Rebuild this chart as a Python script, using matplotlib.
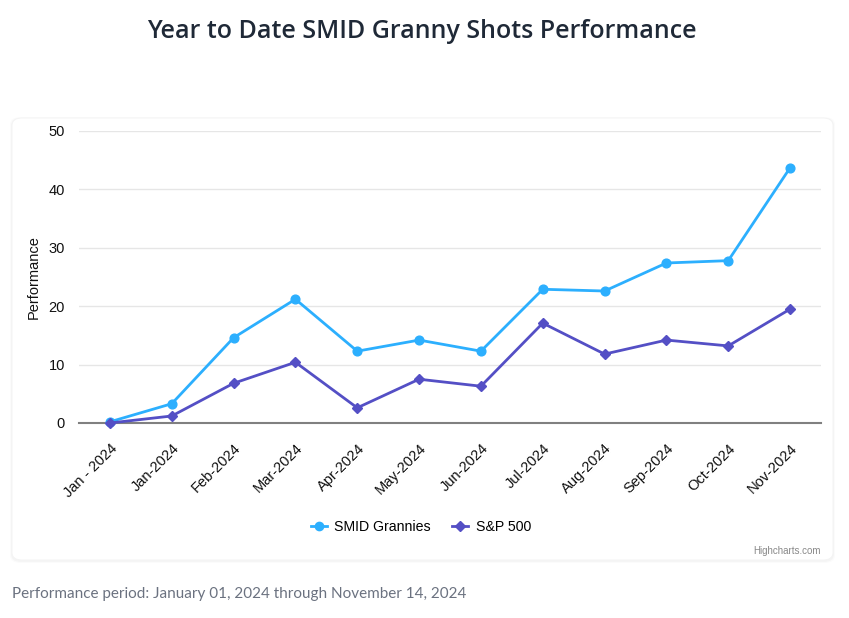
import matplotlib
matplotlib.use("Agg")
import matplotlib.pyplot as plt
from matplotlib.patches import FancyBboxPatch

categories = ["Jan - 2024", "Jan-2024", "Feb-2024", "Mar-2024", "Apr-2024", "May-2024",
              "Jun-2024", "Jul-2024", "Aug-2024", "Sep-2024", "Oct-2024", "Nov-2024"]
smid = [0.2, 3.3, 14.6, 21.2, 12.3, 14.2, 12.3, 22.9, 22.6, 27.4, 27.8, 43.7]
sp500 = [0.0, 1.2, 6.8, 10.4, 2.6, 7.5, 6.3, 17.1, 11.8, 14.2, 13.2, 19.5]
yticks = [0, 10, 20, 30, 40, 50]

W, H = 849, 618
fig = plt.figure(figsize=(W / 100, H / 100), dpi=100)
fig.patch.set_facecolor("white")

def fx(px):
    return px / W

def fy(py):
    return 1 - py / H

# chart card with subtle shadow
for off, alpha in [(2, 0.015), (1, 0.025)]:
    fig.patches.append(FancyBboxPatch((fx(12 - off), fy(561 + off)), fx(821 + 2 * off), (442 + 2 * off) / H,
                                      boxstyle="round,pad=0,rounding_size=0.012",
                                      transform=fig.transFigure, facecolor="black",
                                      edgecolor="none", alpha=alpha, zorder=-3))
fig.patches.append(FancyBboxPatch((fx(12), fy(560)), fx(821), 442 / H,
                                  boxstyle="round,pad=0,rounding_size=0.012",
                                  transform=fig.transFigure, facecolor="white",
                                  edgecolor="#f3f3f3", linewidth=0.6, zorder=-2))

ax = fig.add_axes([fx(79), fy(423), fx(821 - 79), (423 - 131) / H])
ax.set_facecolor("none")
x = list(range(len(categories)))
ax.plot(x, smid, color="#2caffe", lw=2, marker="o", ms=6.3, label="SMID Grannies",
        clip_on=False, zorder=3)
ax.plot(x, sp500, color="#544fc5", lw=2, marker="D", ms=5.2, label="S&P 500",
        clip_on=False, zorder=3)

ax.set_xlim(-0.5, len(categories) - 0.5)
ax.set_ylim(0, 50)
ax.set_yticks(yticks)
ax.set_xticks(x)
ax.set_xticklabels(categories, rotation=45, ha="right", rotation_mode="anchor",
                   fontsize=10.5, family="Liberation Sans", color="#111111")
for lab in ax.get_yticklabels():
    lab.set_fontfamily("Liberation Sans")
ax.tick_params(axis="y", length=0, labelsize=10.5, labelcolor="#111111", pad=10)
ax.tick_params(axis="x", length=0, pad=13)
ax.grid(axis="y", color="#e6e6e6", lw=1)
ax.set_axisbelow(True)
for s in ["top", "right", "left"]:
    ax.spines[s].set_visible(False)
ax.spines["bottom"].set_color("#808080")
ax.spines["bottom"].set_linewidth(1.5)
ax.set_ylabel("Performance", fontsize=10.5, family="Liberation Sans", color="#111111", labelpad=6)

leg = fig.legend(loc="center", bbox_to_anchor=(fx(421), fy(527)), ncol=2, frameon=False,
                 prop={"family": "Liberation Sans", "size": 10.2}, handlelength=1.1,
                 columnspacing=1.5, handletextpad=0.55, markerscale=0.95)

fig.text(fx(422), fy(31), "Year to Date SMID Granny Shots Performance", ha="center", va="center",
         fontsize=18, fontweight="semibold", family="Open Sans", color="#1f2937")
fig.text(fx(821), fy(551), "Highcharts.com", ha="right", va="center", fontsize=7,
         family="Liberation Sans", color="#888888")
fig.text(fx(12), fy(594), "Performance period: January 01, 2024 through November 14, 2024",
         ha="left", va="center", fontsize=11, family="Lato", color="#6b7280")

fig.savefig("out.png", dpi=100, facecolor="white")
